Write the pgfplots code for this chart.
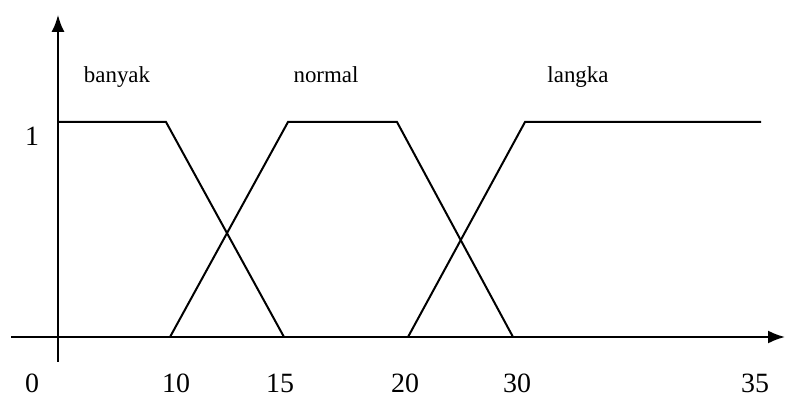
\documentclass[border=0pt]{standalone}
\usepackage{pgfplots}
\pgfplotsset{compat=1.18}
\usetikzlibrary{arrows.meta}
\usepackage{fontspec}
\setmainfont{Liberation Serif}
\begin{document}
\begin{tikzpicture}[
  lbl/.style={anchor=base, inner sep=0pt, font=\fontsize{23}{27}\selectfont},
  num/.style={anchor=base, inner sep=0pt, font=\fontsize{28}{32}\selectfont},
]
\begin{axis}[
  width=785bp, height=398bp, scale only axis,
  xmin=-58, xmax=727, ymin=-0.2837, ymax=1.5674,
  hide axis, clip=false,
]
% axes
\addplot[black, line width=2bp, mark=none, -{Latex[length=17bp,width=13bp]}] coordinates {(-47,0) (727,0)};
\addplot[black, line width=2bp, mark=none, -{Latex[length=17bp,width=13bp]}] coordinates {(0,-0.116) (0,1.498)};
% banyak
\addplot[black, line width=2bp, mark=none] coordinates {(0,1) (108,1) (226,0)};
% normal
\addplot[black, line width=2bp, mark=none] coordinates {(112,0) (230,1) (339,1) (455,0)};
% langka
\addplot[black, line width=2bp, mark=none] coordinates {(350,0) (467,1) (703,1)};
% labels
\node[lbl] at (axis cs:59,1.186) {banyak};
\node[lbl] at (axis cs:268,1.186) {normal};
\node[lbl] at (axis cs:520,1.186) {langka};
\node[num] at (axis cs:-26,0.893) {1};
\node[num] at (axis cs:-26,-0.258) {0};
\node[num] at (axis cs:118,-0.258) {10};
\node[num] at (axis cs:222,-0.258) {15};
\node[num] at (axis cs:347,-0.258) {20};
\node[num] at (axis cs:459,-0.258) {30};
\node[num] at (axis cs:697,-0.258) {35};
\end{axis}
\pgfresetboundingbox
\path[use as bounding box] (current axis.south west) rectangle (current axis.north east);
\end{tikzpicture}
\end{document}
